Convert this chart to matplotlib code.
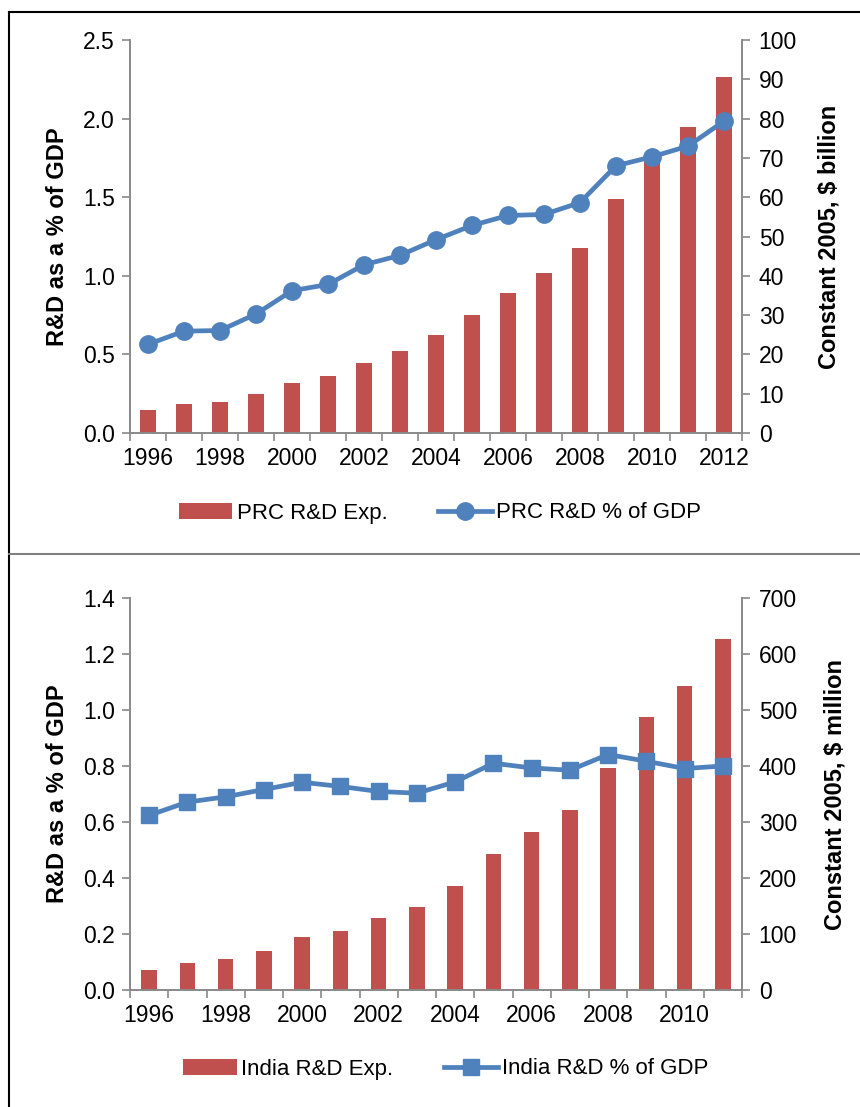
import matplotlib
matplotlib.use('Agg')
import matplotlib.pyplot as plt
import numpy as np
from matplotlib.lines import Line2D

plt.rcParams['font.family'] = ['Liberation Sans', 'DejaVu Sans']

# PRC data
prc_years = list(range(1996, 2013))
prc_exp = [5.8, 7.3, 7.9, 9.9, 12.8, 14.5, 17.9, 20.9, 25.0, 30.0, 35.5,
           40.7, 47.0, 59.5, 69.5, 77.8, 90.5]
prc_pct = [0.564, 0.648, 0.652, 0.757, 0.905, 0.945, 1.07, 1.13, 1.23, 1.32,
           1.384, 1.39, 1.466, 1.70, 1.757, 1.825, 1.984]

# India data
ind_years = list(range(1996, 2012))
ind_exp = [36, 49, 54.5, 70, 95, 105, 128, 148, 186, 243.5, 283, 321.5,
           395.7, 487.6, 543, 627]
ind_pct = [0.624, 0.671, 0.690, 0.716, 0.742, 0.727, 0.709, 0.703, 0.743,
           0.810, 0.793, 0.785, 0.841, 0.817, 0.791, 0.800]

BAR = '#C0504D'
LINE = '#4F81BD'
SPINE = '#898989'
FS = 16.5
LFS = 16

W, H = 860, 1107
fig = plt.figure(figsize=(W / 100, H / 100), dpi=100)


def panel(rect, years, exp, pct, marker, ms, bw, lmax, lstep, rmax, rstep,
          rlabel, names, leg_xy, rlab_x):
    ax = fig.add_axes(rect)
    ax2 = ax.twinx()
    n = len(years)
    x = np.arange(n)
    ax2.bar(x, exp, width=bw, color=BAR, label=names[0])
    ax.plot(x, pct, color=LINE, lw=3.4, marker=marker, ms=ms,
            label=names[1])
    ax.set_zorder(ax2.get_zorder() + 1)
    ax.patch.set_visible(False)

    ax.set_xlim(-0.5, n - 0.5)
    ax.set_ylim(0, lmax)
    ax.set_yticks(np.arange(0, lmax + 1e-9, lstep))
    ax.set_yticklabels(['%.1f' % v for v in np.arange(0, lmax + 1e-9, lstep)])
    ax2.set_ylim(0, rmax)
    ax2.set_yticks(np.arange(0, rmax + 1, rstep))

    ax.set_xticks(x[::2])
    ax.set_xticklabels([str(y) for y in years[::2]])
    ax.set_xticks(np.arange(n + 1) - 0.5, minor=True)
    ax.tick_params(axis='x', which='major', length=0, pad=10, labelsize=FS)
    ax.tick_params(axis='x', which='minor', length=6, width=1.2, color=SPINE)
    ax.tick_params(axis='y', length=6, width=1.2, color=SPINE, pad=5,
                   labelsize=FS)
    ax2.tick_params(axis='y', length=6, width=1.2, color=SPINE, pad=6,
                    labelsize=FS)

    for a in (ax, ax2):
        a.spines['top'].set_visible(False)
        for s in ('left', 'right', 'bottom'):
            a.spines[s].set_color(SPINE)
            a.spines[s].set_linewidth(1.2)

    ax.set_ylabel('R&D as a % of GDP', fontsize=17, fontweight='bold')
    ax2.set_ylabel(rlabel, fontsize=17, fontweight='bold')
    ax.yaxis.set_label_coords(-0.119, 0.5)
    ax2.yaxis.set_label_coords(rlab_x, 0.5)
    ax.yaxis.label.set_va('center')
    ax2.yaxis.label.set_va('center')

    h1, l1 = ax2.get_legend_handles_labels()
    h2, l2 = ax.get_legend_handles_labels()
    fig.legend(h1 + h2, l1 + l2, loc='center', bbox_to_anchor=leg_xy,
               ncol=2, frameon=False, fontsize=LFS, handlelength=2.4,
               handletextpad=0.2, columnspacing=2.3)


panel([130 / W, (H - 433) / H, 612 / W, 393 / H], prc_years, prc_exp,
      prc_pct, 'o', 12.5, 0.42, 2.5, 0.5, 100, 10,
      'Constant 2005, $ billion', ['PRC R&D Exp.', 'PRC R&D % of GDP'],
      (440 / W, (H - 513) / H), 1.142)

panel([130 / W, (H - 990) / H, 612 / W, 392 / H], ind_years, ind_exp,
      ind_pct, 's', 11.5, 0.40, 1.4, 0.2, 700, 100,
      'Constant 2005, $ million', ['India R&D Exp.', 'India R&D % of GDP'],
      (446 / W, (H - 1069) / H), 1.152)

# frame lines
fig.add_artist(Line2D([8.5 / W, 1], [1 - 11.5 / H, 1 - 11.5 / H],
                      color='black', lw=1.5))
fig.add_artist(Line2D([8.5 / W, 8.5 / W], [0, 1 - 11.5 / H],
                      color='black', lw=1.5))
fig.add_artist(Line2D([8.5 / W, 1], [1 - 554 / H, 1 - 554 / H],
                      color='#7f7f7f', lw=1.5))

fig.savefig('out.png', dpi=100)
